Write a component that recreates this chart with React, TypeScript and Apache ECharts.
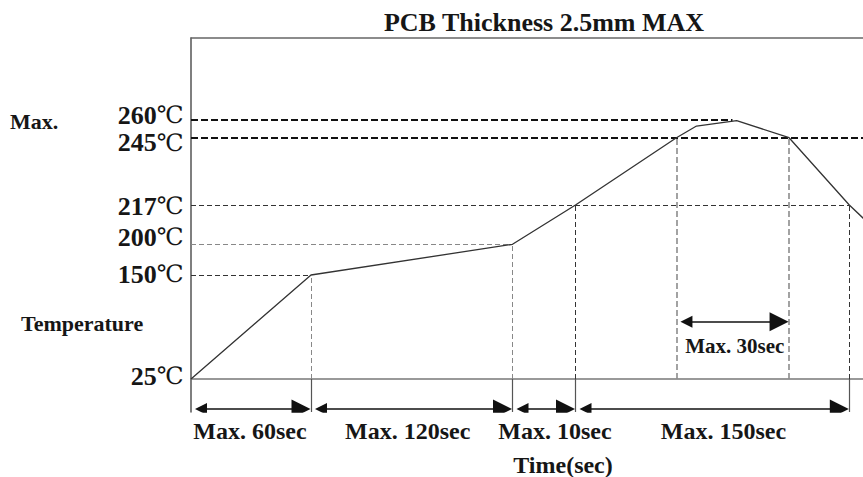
import React, { useEffect, useRef } from 'react';
import * as echarts from 'echarts';

// ---------- data ----------
const titleText = 'PCB Thickness 2.5mm MAX';
const tempTicks = [25, 150, 200, 217, 245, 260];
const tempTickLabels = ['25', '150', '200', '217', '245', '260'];
const phaseEdges = [0, 60, 180, 190, 340]; // seconds
const phaseLabels = ['Max. 60sec', 'Max. 120sec', 'Max. 10sec', 'Max. 150sec'];
const profileTime = [0, 60, 180, 190, 245.3, 256.3, 278.3, 307, 340, 348];
const profileTemp = [25, 150, 200, 217, 245, 254.5, 259, 245, 217, 211];
const peakWindow = [245.3, 307];
const peakLabel = 'Max. 30sec';

// ---------- schematic (not-to-scale) axis mapping ----------
const TIME_POS = [0, 120, 321.5, 384.5, 658.3];
const TEMP_POS = [0, 104, 134.7, 174, 241.3, 259.7];
const X_MAX = 672;
const Y_MIN = -33;
const Y_MAX = 341;
const ARROW_Y = -30;
const PEAK_ARROW_Y = 57.3;
const INSET = 9.5;

function piecewise(xs: number[], ys: number[], v: number) {
  let i = 0;
  if (v <= xs[0]) i = 0;
  else if (v >= xs[xs.length - 1]) i = xs.length - 2;
  else {
    while (v > xs[i + 1]) i++;
  }
  const t = (v - xs[i]) / (xs[i + 1] - xs[i]);
  return ys[i] + t * (ys[i + 1] - ys[i]);
}
const tx = (t: number) => piecewise(phaseEdges, TIME_POS, t);
const ty = (c: number) => piecewise(tempTicks, TEMP_POS, c);

const FONT = "'Liberation Serif', 'DejaVu Serif', serif";
const TEXT = '#161616';

export default function App() {
  const ref = useRef<HTMLDivElement>(null);
  useEffect(() => {
    const chart = echarts.init(ref.current!, null, { renderer: 'svg' });

    const heavy = { color: '#111', width: 2, type: [7, 3], opacity: 1 };
    const thinDark = { color: '#333', width: 1, type: [5, 3], opacity: 1 };
    const thinGray = { color: '#888', width: 1, type: [5, 3], opacity: 1 };
    const heavyGray = { color: '#8c8c8c', width: 1.6, type: [6, 3], opacity: 1 };

    const guides: any[] = [
      { coords: [[0, ty(260)], [tx(276), ty(260)]], lineStyle: heavy },
      { coords: [[0, ty(245)], [X_MAX, ty(245)]], lineStyle: heavy },
      { coords: [[0, ty(217)], [tx(340), ty(217)]], lineStyle: thinDark },
      { coords: [[0, ty(200)], [tx(180), ty(200)]], lineStyle: thinGray },
      { coords: [[0, ty(150)], [tx(60), ty(150)]], lineStyle: thinDark },
      { coords: [[tx(60), 0], [tx(60), ty(150)]], lineStyle: thinGray },
      { coords: [[tx(180), 0], [tx(180), ty(200)]], lineStyle: thinGray },
      { coords: [[tx(190), 0], [tx(190), ty(217)]], lineStyle: thinDark },
      { coords: [[tx(peakWindow[0]), 0], [tx(peakWindow[0]), ty(245)]], lineStyle: heavyGray },
      { coords: [[tx(peakWindow[1]), 0], [tx(peakWindow[1]), ty(245)]], lineStyle: heavyGray },
      { coords: [[tx(340), 0], [tx(340), ty(217)]], lineStyle: thinDark },
    ];
    phaseEdges.slice(1).forEach((e) => {
      guides.push({ coords: [[tx(e), 0], [tx(e), Y_MIN]], lineStyle: { color: '#555', width: 1.2, type: 'solid', opacity: 1 } });
    });

    const arrows: any[] = [];
    for (let i = 0; i < phaseEdges.length - 1; i++) {
      arrows.push({ coords: [[tx(phaseEdges[i]) + INSET + 0.5, ARROW_Y], [tx(phaseEdges[i + 1]) - INSET - 0.5, ARROW_Y]] });
    }
    arrows.push({ coords: [[tx(peakWindow[0]) + INSET + 0.5, PEAK_ARROW_Y], [tx(peakWindow[1]) - INSET - 0.5, PEAK_ARROW_Y]] });

    const tempDy = [-3, -1, -7, 1, 5, -4];
    const phaseDx = [-1, -4, 11, 11];
    const hidden = { color: 'rgba(0,0,0,0)', opacity: 1 };

    const option: any = {
      animation: false,
      backgroundColor: '#fff',
      grid: { left: 191, right: 0, top: 38, bottom: 65 },
      xAxis: [
        {
          type: 'value', min: 0, max: X_MAX,
          axisLine: { show: true, onZero: true, lineStyle: { color: '#777', width: 1.5 } },
          axisTick: { show: false }, axisLabel: { show: false }, splitLine: { show: false },
        },
        {
          type: 'value', position: 'top', min: 0, max: X_MAX,
          axisLine: { show: true, onZero: false, lineStyle: { color: '#666', width: 1.5 } },
          axisTick: { show: false }, axisLabel: { show: false }, splitLine: { show: false },
        },
      ],
      yAxis: {
        type: 'value', min: Y_MIN, max: Y_MAX,
        axisLine: { show: true, lineStyle: { color: '#555', width: 1.5 } },
        axisTick: { show: false }, axisLabel: { show: false }, splitLine: { show: false },
      },
      graphic: [
        { type: 'text', x: 544, y: 22, silent: true, style: { text: titleText, align: 'center', verticalAlign: 'middle', font: `bold 26px ${FONT}`, fill: TEXT } },
        { type: 'text', x: 10, y: 121, silent: true, style: { text: 'Max.', align: 'left', verticalAlign: 'middle', font: `bold 22px ${FONT}`, fill: TEXT } },
        { type: 'text', x: 21, y: 323, silent: true, style: { text: 'Temperature', align: 'left', verticalAlign: 'middle', font: `bold 22px ${FONT}`, fill: TEXT } },
        { type: 'text', x: 563, y: 465, silent: true, style: { text: 'Time(sec)', align: 'center', verticalAlign: 'middle', font: `bold 24px ${FONT}`, fill: TEXT } },
      ],
      series: [
        {
          type: 'lines', coordinateSystem: 'cartesian2d', silent: true, z: 1,
          symbol: ['none', 'none'], data: guides,
          lineStyle: { opacity: 1 },
        },
        {
          type: 'lines', coordinateSystem: 'cartesian2d', silent: true, z: 2,
          symbol: ['triangle', 'triangle'], symbolSize: [12, 19],
          lineStyle: { color: '#111', width: 1.5, type: 'solid', opacity: 1 },
          data: arrows,
        },
        {
          type: 'line', silent: true, z: 3, symbol: 'none', clip: true,
          lineStyle: { color: '#333', width: 1.3 },
          data: profileTime.map((t, i) => [tx(t), ty(profileTemp[i])]),
        },
        {
          type: 'scatter', silent: true, z: 4, symbolSize: 1, itemStyle: hidden,
          data: tempTicks.map((c, i) => ({
            value: [0, ty(c)],
            label: { offset: [0, tempDy[i]] },
          })),
          label: {
            show: true, position: 'left', distance: 7,
            formatter: (p: any) => `{n|${tempTickLabels[p.dataIndex]}}{c|℃}`,
            rich: {
              n: { fontFamily: FONT, fontWeight: 'bold', fontSize: 26, lineHeight: 20, color: TEXT },
              c: { fontFamily: FONT, fontWeight: 'normal', fontSize: 24, lineHeight: 20, color: TEXT },
            },
          },
        },
        {
          type: 'scatter', silent: true, z: 4, symbolSize: 1, itemStyle: hidden,
          data: phaseLabels.map((s, i) => ({
            value: [(tx(phaseEdges[i]) + tx(phaseEdges[i + 1])) / 2, ARROW_Y],
            label: { offset: [phaseDx[i], 22] },
          })),
          label: {
            show: true, position: 'inside',
            formatter: (p: any) => phaseLabels[p.dataIndex],
            fontFamily: FONT, fontWeight: 'bold', fontSize: 24, color: TEXT,
          },
        },
        {
          type: 'scatter', silent: true, z: 4, symbolSize: 1, itemStyle: hidden,
          data: [{ value: [(tx(peakWindow[0]) + tx(peakWindow[1])) / 2, PEAK_ARROW_Y], label: { offset: [2, 24] } }],
          label: {
            show: true, position: 'inside',
            formatter: () => peakLabel,
            fontFamily: FONT, fontWeight: 'bold', fontSize: 21, color: TEXT,
          },
        },
      ],
    };
    chart.setOption(option);
    return () => chart.dispose();
  }, []);
  return (
    <div
      ref={ref}
      style={{ position: 'absolute', left: 0, top: 0, width: 863, height: 477, background: '#fff' }}
    />
  );
}
